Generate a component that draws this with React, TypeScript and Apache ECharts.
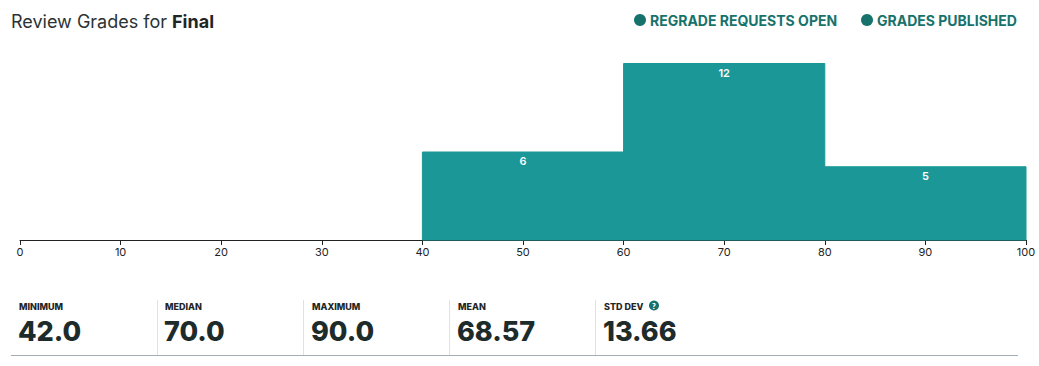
import React, { useEffect, useRef } from "react";
import * as echarts from "echarts";

const binStarts = [40, 60, 80];
const binEnds = [60, 80, 100];
const binCounts = [6, 12, 5];
const xTicks = [0, 10, 20, 30, 40, 50, 60, 70, 80, 90, 100];
const statLabels = ["MINIMUM", "MEDIAN", "MAXIMUM", "MEAN", "STD DEV"];
const statValues = ["42.0", "70.0", "90.0", "68.57", "13.66"];
const legendItems = ["REGRADE REQUESTS OPEN", "GRADES PUBLISHED"];

const FONT = "Inter, Lato, sans-serif";
const BAR = "#1b9797";
const DARK_TEAL = "#17726c";

export default function App() {
  const ref = useRef<HTMLDivElement>(null);
  useEffect(() => {
    if (!ref.current) return;
    const chart = echarts.init(ref.current, undefined, { renderer: "svg" });
    const data = binStarts.map((s, i) => [s, binEnds[i], binCounts[i]]);
    const statX = [19, 165, 312, 458, 604];
    const graphics: any[] = [
      {
        type: "text",
        x: 11,
        y: 21,
        style: {
          text: "{n|Review Grades for }{b|Final}",
          verticalAlign: "middle",
          rich: {
            n: { fontSize: 18, fontFamily: FONT, fill: "#2a3333", fontWeight: 400 },
            b: { fontSize: 18, fontFamily: FONT, fill: "#1e2626", fontWeight: 700 },
          },
        },
      },
      { type: "circle", shape: { cx: 640, cy: 20, r: 6 }, style: { fill: DARK_TEAL } },
      {
        type: "text",
        x: 650,
        y: 20,
        style: { text: legendItems[0], fontSize: 14, fontWeight: 700, fill: DARK_TEAL, fontFamily: FONT, verticalAlign: "middle" },
      },
      { type: "circle", shape: { cx: 867, cy: 20, r: 6 }, style: { fill: DARK_TEAL } },
      {
        type: "text",
        x: 877,
        y: 20,
        style: { text: legendItems[1], fontSize: 14, fontWeight: 700, fill: DARK_TEAL, fontFamily: FONT, verticalAlign: "middle" },
      },
      { type: "line", shape: { x1: 11, y1: 355.5, x2: 1018, y2: 355.5 }, style: { stroke: "#a3adb3", lineWidth: 1 } },
    ];
    [157, 303, 449, 595].forEach((x) => {
      graphics.push({ type: "line", shape: { x1: x + 0.5, y1: 300, x2: x + 0.5, y2: 355 }, style: { stroke: "#dde2e4", lineWidth: 1 } });
    });
    statLabels.forEach((l, i) => {
      graphics.push({
        type: "text",
        x: statX[i],
        y: 306,
        style: { text: l, fontSize: 9, fontWeight: 800, fill: "#1e2626", fontFamily: FONT, verticalAlign: "middle" },
      });
      graphics.push({
        type: "text",
        x: statX[i] - 1,
        y: 331,
        style: { text: statValues[i], fontSize: 27, fontWeight: 800, fill: "#1e2b2b", fontFamily: FONT, verticalAlign: "middle" },
      });
    });
    graphics.push({ type: "circle", shape: { cx: 654, cy: 305.5, r: 5 }, style: { fill: DARK_TEAL } });
    graphics.push({
      type: "text",
      x: 654,
      y: 306,
      style: { text: "?", fontSize: 8, fontWeight: 800, fill: "#fff", fontFamily: "Lato, sans-serif", align: "center", verticalAlign: "middle" },
    });

    chart.setOption({
      animation: false,
      grid: { left: 20, right: 13, top: 63, bottom: 126 },
      xAxis: {
        type: "value",
        min: 0,
        max: 100,
        interval: 10,
        axisLine: { show: true, lineStyle: { color: "#222", width: 1 } },
        axisTick: { show: true, length: 5, lineStyle: { color: "#222" } },
        axisLabel: {
          fontSize: 11,
          color: "#222",
          fontFamily: FONT,
          margin: 6,
          formatter: (v: number) => (xTicks.includes(v) ? String(v) : ""),
        },
        splitLine: { show: false },
      },
      yAxis: { type: "value", min: 0, max: 12, show: false, splitLine: { show: false } },
      series: [
        {
          type: "custom",
          data,
          renderItem: (params: any, api: any) => {
            const p0 = api.coord([api.value(0), api.value(2)]);
            const p1 = api.coord([api.value(1), 0]);
            return {
              type: "rect",
              shape: { x: p0[0], y: p0[1] + 0.5, width: p1[0] - p0[0], height: p1[1] - p0[1] - 0.5 },
              style: { fill: BAR, stroke: BAR, lineWidth: 1 },
              textContent: {
                style: { text: String(api.value(2)), fill: "#fff", fontSize: 11, fontFamily: FONT, fontWeight: 600 },
              },
              textConfig: { position: "insideTop", distance: 4 },
            };
          },
        },
      ],
      graphic: graphics,
    });
    return () => chart.dispose();
  }, []);
  return <div ref={ref} style={{ position: "fixed", left: 0, top: 0, width: 1039, height: 366, background: "#fff" }} />;
}
